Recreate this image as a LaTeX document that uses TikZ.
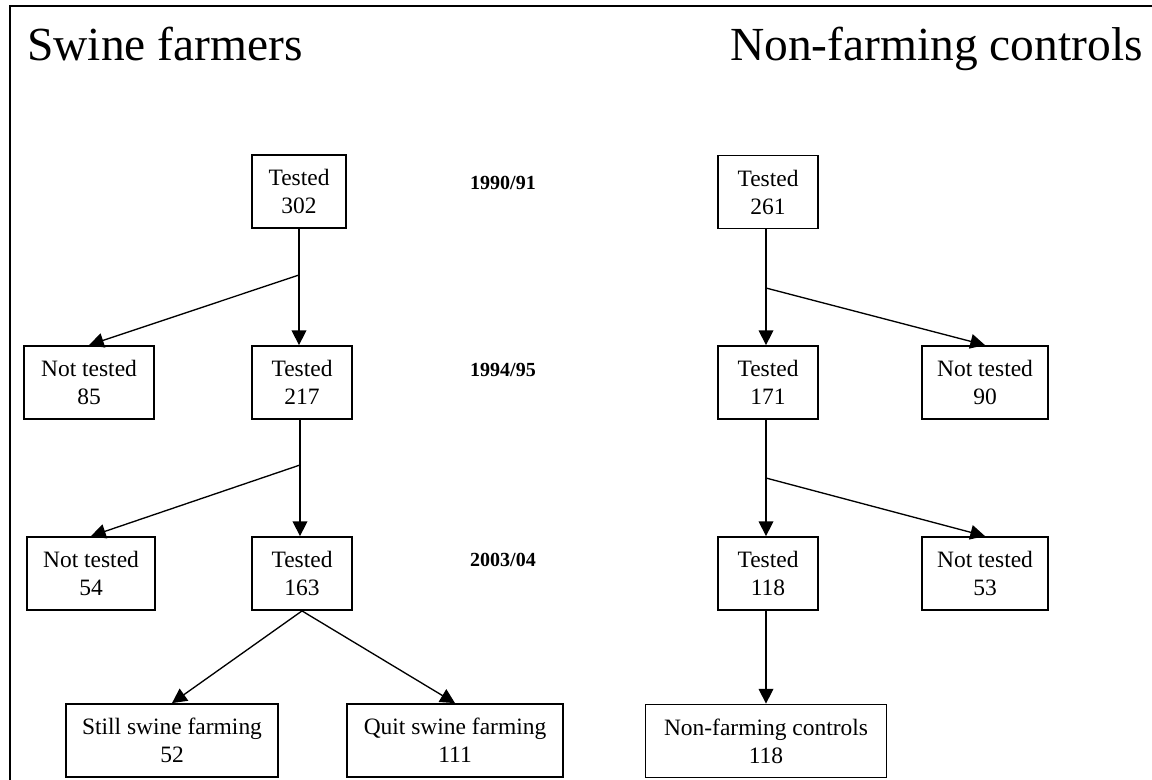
\documentclass[tikz,border=0pt]{standalone}
\usepackage{fontspec}
\setmainfont{Liberation Serif}
\usetikzlibrary{arrows.meta}
\begin{document}
\begin{tikzpicture}[x=0.75pt,y=-0.75pt,
  box/.style={draw,line width=1.1pt,inner sep=0pt,align=center,minimum height=55pt,
    font=\fontsize{17.6}{21}\selectfont},
  conn/.style={line width=1pt},
  arr/.style={line width=1pt,-{Triangle[length=11pt,width=11pt]}},
  year/.style={font=\fontsize{15}{18}\selectfont\bfseries},
  title/.style={font=\fontsize{35.6}{40}\selectfont,inner sep=0pt}]
\useasboundingbox (0,0) rectangle (1152,779);
\clip (0,0) rectangle (1152,779);
\draw[line width=1.5pt] (10,790) -- (10,5.5) -- (1170,5.5);

\node[title,anchor=base west] (ttl1) at (27,60) {Swine farmers};
\node[title,anchor=base east] (ttl2) at (1143,60) {Non-farming controls};

\node[year] (y1) at (503,183) {1990/91};
\node[year] (y2) at (503,370) {1994/95};
\node[year] (y3) at (503,560) {2003/04};

% left column
\node[box,minimum width=70.5pt] (t302) at (299,191.5) {Tested\\302};
\node[box,minimum width=75pt] (t217) at (302,382.5) {Tested\\217};
\node[box,minimum width=97.5pt] (n85) at (89,382.5) {Not tested\\85};
\node[box,minimum width=75pt] (t163) at (302,573.5) {Tested\\163};
\node[box,minimum width=96pt] (n54) at (91,573.5) {Not tested\\54};
\node[box,minimum width=159pt] (s52) at (172,740.5) {Still swine farming\\52};
\node[box,minimum width=162pt] (q111) at (455,740.5) {Quit swine farming\\111};

% right column
\node[box,minimum width=75pt] (t261) at (768,192) {Tested\\261};
\node[box,minimum width=75pt] (t171) at (768,382.5) {Tested\\171};
\node[box,minimum width=94.5pt] (n90) at (985,382.5) {Not tested\\90};
\node[box,minimum width=75pt] (t118) at (768,573.5) {Tested\\118};
\node[box,minimum width=94.5pt] (n53) at (985,573.5) {Not tested\\53};
\node[box,minimum width=181pt] (nfc) at (766,741) {Non-farming controls\\118};

\coordinate (b1) at (299,275);
\coordinate (b2) at (300,465);
\coordinate (b3) at (766,288);
\coordinate (b4) at (766,478);

\draw[conn] (t302.south) -- (b1);
\draw[arr] (b1) -- (b1 |- t217.north);
\draw[arr] (b1) -- (n85.north);
\draw[conn] (b2 |- t217.south) -- (b2);
\draw[arr] (b2) -- (b2 |- t163.north);
\draw[arr] (b2) -- (n54.north);
\draw[arr] (t163.south) -- (s52.north);
\draw[arr] (t163.south) -- (q111.north);

\draw[conn] (b3 |- t261.south) -- (b3);
\draw[arr] (b3) -- (b3 |- t171.north);
\draw[arr] (b3) -- (n90.north);
\draw[conn] (b4 |- t171.south) -- (b4);
\draw[arr] (b4) -- (b4 |- t118.north);
\draw[arr] (b4) -- (n53.north);
\draw[arr] (b4 |- t118.south) -- (nfc.north);
\end{tikzpicture}
\end{document}
